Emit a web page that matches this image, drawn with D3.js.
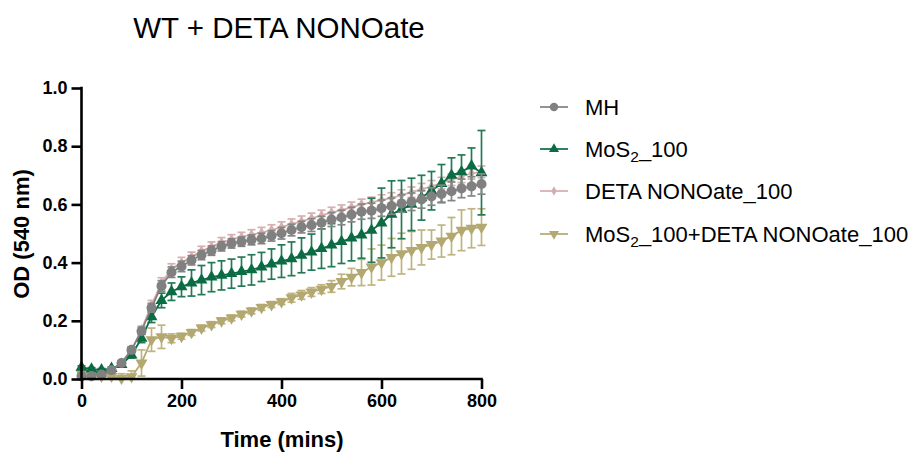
<!DOCTYPE html>
<html>
<head>
<meta charset="utf-8">
<script src="https://cdn.jsdelivr.net/npm/d3@7"></script>
<style>
  body { margin: 0; background: #fff; }
  svg { font-family: "Liberation Sans", Arial, sans-serif; }
  .axis path, .axis line { stroke: #000; stroke-width: 2.6; }
  .axis text { font-size: 18px; font-weight: bold; fill: #000; }
</style>
</head>
<body>
<div id="chart"></div>
<script>
// time points (mins)
var times = d3.range(0, 801, 20);

var mhMean = [0.01, 0.01, 0.015, 0.03, 0.055, 0.10, 0.165, 0.245, 0.32, 0.367,
  0.387, 0.408, 0.426, 0.441, 0.456, 0.466, 0.472, 0.478, 0.483, 0.492,
  0.501, 0.512, 0.522, 0.529, 0.537, 0.548, 0.555, 0.565, 0.575, 0.578,
  0.587, 0.594, 0.603, 0.609, 0.617, 0.627, 0.636, 0.645, 0.655, 0.662, 0.67];
var mhSd = [0.005, 0.005, 0.005, 0.006, 0.008, 0.01, 0.012, 0.015, 0.018, 0.018,
  0.018, 0.016, 0.016, 0.016, 0.016, 0.016, 0.016, 0.017, 0.018, 0.018,
  0.02, 0.02, 0.02, 0.022, 0.022, 0.024, 0.025, 0.025, 0.026, 0.026,
  0.028, 0.028, 0.03, 0.03, 0.03, 0.03, 0.03, 0.032, 0.032, 0.033, 0.035];

var mosMean = [0.04, 0.034, 0.031, 0.036, 0.05, 0.082, 0.14, 0.214, 0.27, 0.30,
  0.317, 0.33, 0.34, 0.35, 0.356, 0.362, 0.369, 0.375, 0.385, 0.395,
  0.405, 0.413, 0.425, 0.436, 0.448, 0.46, 0.472, 0.484, 0.495, 0.511,
  0.536, 0.566, 0.582, 0.60, 0.623, 0.647, 0.672, 0.70, 0.712, 0.732, 0.709];
var mosSd = [0.005, 0.005, 0.005, 0.005, 0.008, 0.01, 0.015, 0.02, 0.025, 0.03,
  0.034, 0.045, 0.05, 0.05, 0.05, 0.05, 0.05, 0.052, 0.05, 0.052,
  0.056, 0.058, 0.06, 0.062, 0.068, 0.074, 0.075, 0.078, 0.08, 0.11,
  0.12, 0.115, 0.10, 0.09, 0.077, 0.066, 0.065, 0.06, 0.058, 0.062, 0.145];

var detaMean = [0.01, 0.01, 0.015, 0.03, 0.055, 0.10, 0.17, 0.255, 0.33, 0.378,
  0.40, 0.42, 0.44, 0.455, 0.47, 0.48, 0.488, 0.496, 0.503, 0.512,
  0.522, 0.532, 0.542, 0.552, 0.562, 0.572, 0.58, 0.59, 0.60, 0.607,
  0.615, 0.622, 0.632, 0.642, 0.652, 0.662, 0.673, 0.685, 0.695, 0.707, 0.712];
var detaSd = [0.005, 0.005, 0.005, 0.006, 0.008, 0.01, 0.012, 0.015, 0.018, 0.018,
  0.018, 0.016, 0.016, 0.016, 0.016, 0.016, 0.016, 0.017, 0.018, 0.018,
  0.018, 0.018, 0.018, 0.018, 0.018, 0.018, 0.018, 0.018, 0.018, 0.018,
  0.018, 0.018, 0.018, 0.018, 0.02, 0.02, 0.02, 0.02, 0.02, 0.02, 0.02];

var comboMean = [0.02, 0.015, 0.01, 0.01, 0.003, 0.008, 0.055, 0.135, 0.145, 0.14,
  0.147, 0.16, 0.175, 0.187, 0.20, 0.21, 0.223, 0.234, 0.246, 0.256,
  0.266, 0.279, 0.289, 0.299, 0.309, 0.318, 0.335, 0.35, 0.366, 0.385,
  0.40, 0.418, 0.431, 0.442, 0.452, 0.462, 0.474, 0.491, 0.511, 0.518, 0.522];
var comboSd = [0.005, 0.005, 0.005, 0.005, 0.015, 0.02, 0.045, 0.04, 0.04, 0.015,
  0.01, 0.01, 0.01, 0.01, 0.01, 0.01, 0.01, 0.01, 0.01, 0.01,
  0.01, 0.015, 0.015, 0.015, 0.015, 0.02, 0.025, 0.03, 0.045, 0.062,
  0.06, 0.065, 0.07, 0.065, 0.06, 0.05, 0.055, 0.064, 0.07, 0.067, 0.063];

var seriesNames = ["MH", "MoS2_100", "DETA NONOate_100", "MoS2_100+DETA NONOate_100"];
var xTicks = [0, 200, 400, 600, 800];
var yTicks = [0, 0.2, 0.4, 0.6, 0.8, 1.0];

var width = 909, height = 459;

var series = [
  { name: seriesNames[0], mean: mhMean, sd: mhSd, color: "#808080", bar: "#858585", shape: d3.symbolCircle, size: 80, rot: 0 },
  { name: seriesNames[1], mean: mosMean, sd: mosSd, color: "#0b6b43", bar: "#237a55", shape: d3.symbolTriangle, size: 62, rot: 0 },
  { name: seriesNames[2], mean: detaMean, sd: detaSd, color: "#d6adad", bar: "#d6b0b0", shape: d3.symbolDiamond, size: 36, rot: 0 },
  { name: seriesNames[3], mean: comboMean, sd: comboSd, color: "#b3a870", bar: "#bfb480", shape: d3.symbolTriangle, size: 62, rot: 180 }
];

var x = d3.scaleLinear().domain([0, 800]).range([81.5, 481.5]);
var y = d3.scaleLinear().domain([0, 1]).range([379, 88]);

var svg = d3.select("#chart").append("svg")
  .attr("width", width)
  .attr("height", height);

// title
svg.append("text")
  .attr("x", 279).attr("y", 38)
  .attr("text-anchor", "middle")
  .style("font-size", "29.5px")
  .text("WT + DETA NONOate");

// draw order: pink, khaki, green, grey on top
var order = [2, 3, 1, 0];
order.forEach(function(i) {
  var s = series[i];
  var pts = times.map(function(t, k) { return { t: t, m: s.mean[k], sd: s.sd[k] }; });
  var g = svg.append("g");

  var bars = g.append("g")
    .attr("stroke", s.bar)
    .attr("stroke-width", 1.7)
    .attr("fill", "none");
  pts.forEach(function(p) {
    var cx = x(p.t);
    var top = y(p.m + p.sd), bot = y(Math.max(0, p.m - p.sd));
    bars.append("line").attr("x1", cx).attr("x2", cx).attr("y1", top).attr("y2", bot);
    bars.append("line").attr("x1", cx - 4).attr("x2", cx + 4).attr("y1", top).attr("y2", top);
    bars.append("line").attr("x1", cx - 4).attr("x2", cx + 4).attr("y1", bot).attr("y2", bot);
  });

  var line = d3.line()
    .x(function(d) { return x(d.t); })
    .y(function(d) { return y(d.m); });
  g.append("path")
    .datum(pts)
    .attr("d", line)
    .attr("fill", "none")
    .attr("stroke", s.color)
    .attr("stroke-width", 1.8);

  g.selectAll("path.mark")
    .data(pts)
    .enter().append("path")
    .attr("class", "mark")
    .attr("d", d3.symbol().type(s.shape).size(s.size))
    .attr("transform", function(d) {
      return "translate(" + x(d.t) + "," + y(d.m) + ") rotate(" + s.rot + ")";
    })
    .attr("fill", s.color);
});

// axes
var xAxis = svg.append("g")
  .attr("class", "axis")
  .attr("transform", "translate(0," + y(0) + ")")
  .call(d3.axisBottom(x).tickValues(xTicks).tickSize(10).tickSizeOuter(0).tickPadding(5).tickFormat(d3.format("d")));
var yAxis = svg.append("g")
  .attr("class", "axis")
  .attr("transform", "translate(" + x(0) + ",0)")
  .call(d3.axisLeft(y).tickValues(yTicks).tickSize(10).tickSizeOuter(0).tickPadding(4).tickFormat(d3.format(".1f")));
xAxis.selectAll("path.domain").attr("d", "M" + (x(0) - 1.3) + ",0H" + (x(800) + 1.3));
yAxis.selectAll("path.domain").attr("d", "M0," + (y(0) + 1.3) + "V" + (y(1) - 1.3));

svg.append("text")
  .attr("x", 282).attr("y", 447)
  .attr("text-anchor", "middle")
  .style("font-size", "22px").style("font-weight", "bold")
  .text("Time (mins)");

svg.append("text")
  .attr("transform", "translate(29,234) rotate(-90)")
  .attr("text-anchor", "middle")
  .style("font-size", "22px").style("font-weight", "bold")
  .text("OD (540 nm)");

// legend
var legendY = [107, 149, 191, 234];
series.forEach(function(s, i) {
  var lg = svg.append("g").attr("transform", "translate(0," + legendY[i] + ")");
  lg.append("line")
    .attr("x1", 540).attr("x2", 568)
    .attr("stroke", s.color).attr("stroke-width", 1.7);
  lg.append("path")
    .attr("d", d3.symbol().type(s.shape).size(s.size * 0.7))
    .attr("transform", "translate(554,0) rotate(" + s.rot + ")")
    .attr("fill", s.color);
  var t = lg.append("text")
    .attr("x", 585).attr("y", 8)
    .style("font-size", "22px");
  var parts = s.name.split("MoS2");
  if (parts.length > 1) {
    t.append("tspan").text("MoS");
    t.append("tspan").attr("dy", 5).style("font-size", "15.5px").text("2");
    t.append("tspan").attr("dy", -5).text(parts[1]);
  } else {
    t.text(s.name);
  }
});
</script>
</body>
</html>
